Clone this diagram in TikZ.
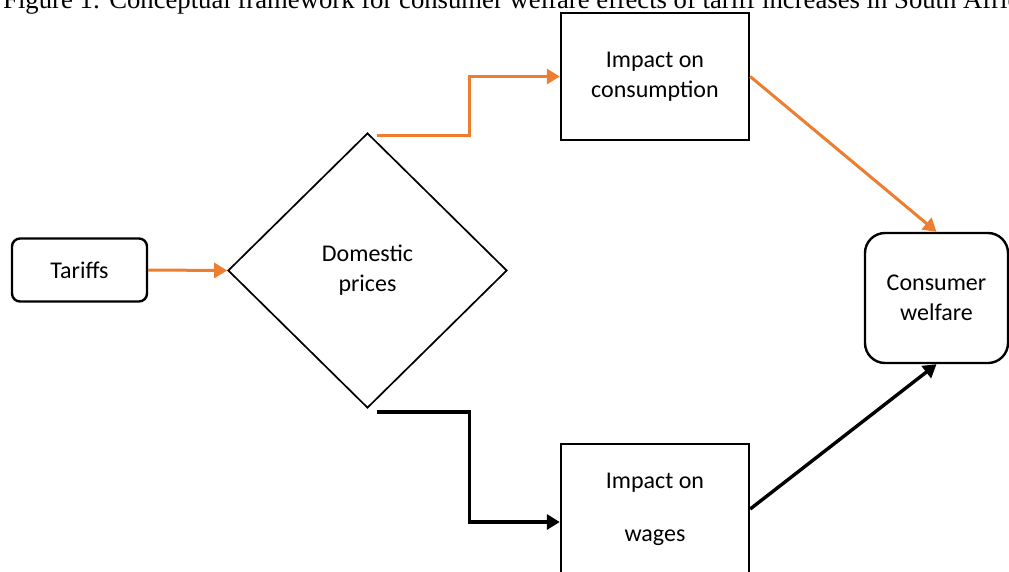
\documentclass[tikz,border=0pt]{standalone}
\usepackage{fontspec}
\setmainfont{Liberation Serif}
\newfontfamily\boxfont{Carlito}
\usepackage{tikz}
\usetikzlibrary{shapes.geometric, arrows.meta, positioning, calc}
\definecolor{floworange}{RGB}{237,125,49}
\tikzset{
  boxtext/.style = {font=\boxfont\fontsize{24}{30}\selectfont, align=center},
  startbox/.style = {
    rectangle, rounded corners=8pt, draw=black, line width=2.4pt,
    fill=white, inner sep=0pt, boxtext
  },
  impactbox/.style = {
    rectangle, draw=black, line width=2.4pt,
    fill=white, inner sep=0pt, minimum width=188pt, boxtext
  },
  pricenode/.style = {
    diamond, draw=black, line width=1.7pt, fill=white, inner sep=0pt,
    minimum width=279pt, minimum height=275pt, boxtext
  },
  endbox/.style = {
    rectangle, rounded corners=20pt, draw=black, line width=2.4pt,
    fill=white, inner sep=0pt, minimum width=143pt, minimum height=130pt, boxtext
  },
  orangearrow/.style = {-{Triangle[length=13pt,width=15pt]}, draw=floworange, line width=3pt},
  blackarrow/.style = {-{Triangle[length=13pt,width=15pt]}, draw=black, line width=3.4pt}
}

\begin{document}
\begin{tikzpicture}[x=1pt, y=-1pt]
  \useasboundingbox (0,0) rectangle (1009,571);

  % Caption (cut off by the page edge)
  \node[anchor=base west, inner sep=0pt, font=\fontsize{26.7}{30}\selectfont] (caption) at (3,8)
    {Figure 1: Conceptual framework for consumer welfare effects of tariff increases in South Africa};

  % Nodes
  \node[startbox, minimum width=135pt, minimum height=63pt] (tariffs) at (79.5,270) {Tariffs};
  \node[pricenode] (prices) at (367.5,270.5) {Domestic\\prices};
  \node[impactbox, minimum height=127pt] (consumption) at (655,76.5) {Impact on\\consumption};
  \node[impactbox, minimum height=130pt] (wages) at (655,509) {Impact on\\[23pt]wages};
  \node[endbox] (welfare) at (936.5,298) {Consumer\\welfare};

  % Connectors
  \draw[orangearrow] (tariffs.east) -- (prices.west);
  \draw[orangearrow] ([xshift=9pt,yshift=-3pt]prices.north) -- ++(93,0) |- (consumption.west);
  \draw[blackarrow] ([xshift=9pt,yshift=-3pt]prices.south) -- ++(93,0) |- ([yshift=-13pt]wages.west);
  \draw[orangearrow] (consumption.east) -- (welfare.north);
  \draw[blackarrow] (wages.east) -- (welfare.south);
\end{tikzpicture}
\end{document}
